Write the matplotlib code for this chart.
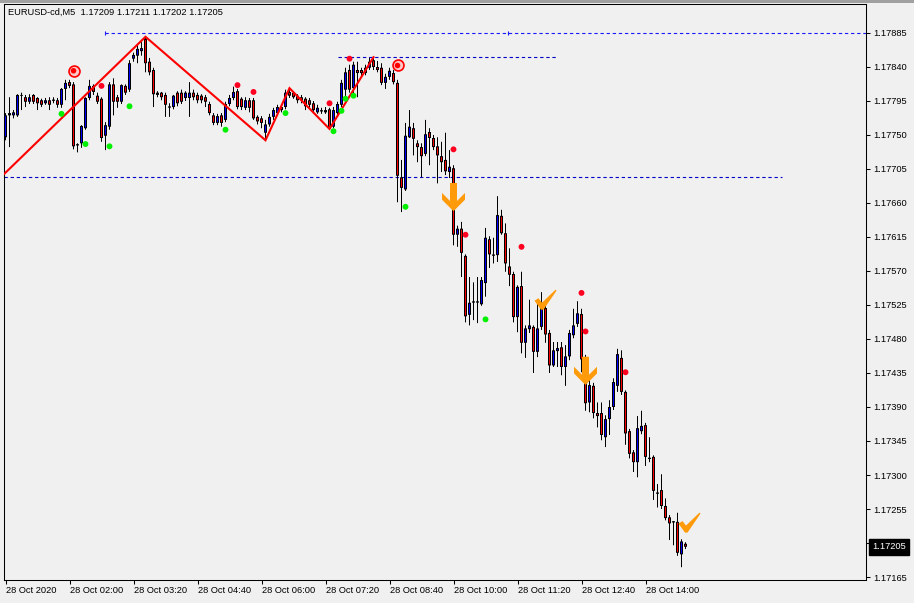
import numpy as np
import matplotlib
matplotlib.use("Agg")
import matplotlib.pyplot as plt
from matplotlib.path import Path
from matplotlib.patches import Rectangle
from matplotlib.transforms import blended_transform_factory

plt.rcParams['font.family'] = ['Liberation Sans', 'DejaVu Sans']

# ---------------- data ----------------
title_text = "EURUSD-cd,M5  1.17209 1.17211 1.17202 1.17205"
base_price = 1.17          # prices below are points (0.00001) above this
last_price = 1.17205

open_pts = [747, 776, 776, 776, 803, 800, 794, 803, 799, 796, 792, 796, 796, 796, 790, 811, 820, 817, 737, 739,
            759, 799, 815, 802, 798, 749, 761, 817, 800, 794, 815, 810, 851, 855, 861, 877, 847, 836, 806, 806,
            803, 787, 787, 806, 806, 799, 799, 806, 803, 802, 800, 791, 776, 766, 776, 770, 791, 799, 808, 798,
            786, 796, 796, 774, 772, 753, 764, 774, 779, 787, 787, 807, 806, 802, 800, 798, 796, 792, 780, 782,
            783, 784, 761, 779, 790, 810, 836, 812, 836, 836, 832, 839, 849, 840, 839, 819, 827, 832, 819, 694,
            678, 747, 759, 739, 734, 725, 754, 746, 735, 722, 717, 701, 706, 618, 626, 590, 512, 529, 529, 526,
            554, 612, 591, 591, 643, 620, 576, 566, 509, 550, 475, 493, 496, 463, 496, 521, 488, 445, 464, 469,
            443, 457, 485, 500, 513, 453, 396, 418, 382, 382, 350, 374, 390, 418, 455, 410, 358, 330, 317, 358,
            366, 322, 324, 276, 280, 259, 244, 238, 238, 195, 209]
high_pts = [779, 800, 783, 804, 806, 803, 804, 804, 800, 798, 799, 800, 800, 799, 812, 823, 823, 820, 739, 763,
            800, 823, 817, 806, 800, 767, 820, 825, 803, 817, 817, 849, 859, 869, 873, 880, 852, 839, 808, 807,
            806, 792, 803, 808, 810, 808, 820, 810, 806, 804, 803, 794, 779, 778, 779, 794, 803, 814, 811, 800,
            800, 799, 799, 776, 775, 770, 778, 786, 790, 790, 810, 812, 808, 804, 803, 800, 799, 795, 790, 786,
            787, 786, 787, 794, 823, 839, 843, 847, 847, 839, 843, 852, 853, 848, 845, 831, 839, 836, 823, 717,
            766, 783, 766, 743, 739, 770, 759, 750, 747, 741, 753, 730, 710, 630, 635, 592, 562, 555, 562, 562,
            627, 616, 614, 669, 651, 633, 600, 569, 551, 569, 498, 532, 498, 532, 542, 525, 492, 476, 476, 476,
            472, 492, 520, 530, 520, 459, 426, 422, 396, 396, 379, 399, 428, 467, 465, 412, 361, 333, 378, 385,
            369, 350, 326, 288, 301, 269, 247, 239, 250, 215, 211]
low_pts = [743, 734, 772, 774, 783, 787, 791, 791, 783, 787, 790, 783, 792, 786, 786, 796, 812, 731, 727, 733,
           757, 796, 803, 791, 741, 730, 757, 776, 786, 791, 803, 807, 847, 845, 855, 833, 829, 787, 800, 796,
           774, 774, 784, 788, 791, 795, 774, 796, 792, 792, 787, 776, 763, 763, 761, 767, 788, 796, 784, 783,
           783, 780, 770, 764, 759, 743, 761, 770, 776, 780, 784, 799, 798, 792, 792, 783, 786, 779, 778, 778,
           778, 758, 759, 776, 787, 800, 806, 803, 800, 828, 829, 836, 836, 833, 816, 811, 823, 817, 661, 648,
           676, 746, 723, 714, 694, 722, 710, 730, 686, 701, 697, 693, 604, 602, 562, 502, 498, 505, 501, 524,
           536, 574, 580, 582, 618, 569, 550, 502, 489, 461, 455, 488, 435, 456, 492, 475, 435, 443, 443, 432,
           418, 452, 481, 496, 436, 385, 383, 375, 363, 346, 337, 353, 386, 410, 406, 340, 322, 304, 297, 354,
           312, 317, 267, 257, 255, 240, 214, 207, 193, 178, 202]
close_pts = [776, 779, 780, 803, 802, 794, 800, 794, 792, 790, 796, 790, 796, 790, 811, 819, 815, 735, 737, 762,
             799, 815, 807, 794, 746, 763, 817, 794, 794, 816, 806, 845, 856, 864, 865, 845, 833, 804, 803, 800,
             790, 787, 802, 792, 794, 806, 806, 800, 796, 796, 794, 779, 766, 775, 766, 791, 799, 807, 787, 787,
             796, 786, 772, 768, 766, 764, 774, 783, 787, 783, 806, 802, 800, 796, 796, 788, 790, 783, 786, 782,
             780, 758, 783, 791, 819, 833, 810, 843, 832, 832, 839, 847, 840, 836, 819, 827, 835, 820, 696, 680,
             749, 761, 745, 734, 722, 751, 746, 734, 723, 714, 702, 708, 618, 626, 594, 510, 528, 529, 529, 558,
             614, 592, 591, 644, 620, 580, 565, 509, 549, 475, 494, 498, 463, 494, 528, 486, 445, 465, 468, 443,
             457, 488, 498, 514, 453, 395, 419, 382, 378, 353, 374, 390, 423, 460, 410, 355, 328, 317, 362, 365,
             324, 322, 279, 276, 259, 243, 236, 238, 197, 212, 205]

# zigzag turning points (bar index, price)
zz_bars = [-1, 35, 65, 71, 81, 92]
zz_prices = [1.17695, 1.17880, 1.17743, 1.17812, 1.17758, 1.17853]

# indicator dots
green_bars = [14, 20, 26, 31, 55, 70, 82, 84, 85, 87, 100, 120]
green_prices = [1.17778, 1.17738, 1.17735, 1.17788, 1.17757, 1.17779, 1.17755, 1.17782, 1.17798, 1.17802,
                1.17655, 1.17506]
red_bars = [24, 58, 62, 81, 86, 112, 115, 129, 144, 145, 155]
red_prices = [1.17815, 1.17816, 1.17807, 1.17792, 1.17851, 1.17731, 1.17618, 1.17602, 1.17541, 1.17490, 1.17436]

target_bars = [17, 98]
target_prices = [1.17835, 1.17842]

arrow_bars = [112, 145]
arrow_prices = [1.17668, 1.17438]

check_bars = [135, 171]
check_prices = [1.17532, 1.17237]

# horizontal levels: (price, start bar, end bar)
level_prices = [1.17885, 1.17853, 1.17694]
level_starts = [24.75, 83, -0.4]
level_ends = [215.2, 138, 194]

price_ticks = [1.17885, 1.17840, 1.17795, 1.17750, 1.17705, 1.17660, 1.17615, 1.17570, 1.17525,
               1.17480, 1.17435, 1.17390, 1.17345, 1.17300, 1.17255, 1.17210, 1.17165]
time_tick_bars = [0, 16, 32, 48, 64, 80, 96, 112, 128, 144, 160]
time_tick_labels = ["28 Oct 2020", "28 Oct 02:00", "28 Oct 03:20", "28 Oct 04:40", "28 Oct 06:00",
                    "28 Oct 07:20", "28 Oct 08:40", "28 Oct 10:00", "28 Oct 11:20", "28 Oct 12:40",
                    "28 Oct 14:00"]

# ---------------- drawing ----------------
o = base_price + np.array(open_pts) / 1e5
h = base_price + np.array(high_pts) / 1e5
l = base_price + np.array(low_pts) / 1e5
c = base_price + np.array(close_pts) / 1e5
idx = np.arange(len(o))

BG = '#F0F0F0'
W, H = 914, 603
AX_W, AX_H = 862, 576
fig = plt.figure(figsize=(W / 100, H / 100), dpi=100, facecolor=BG)
ax = fig.add_axes([4 / W, 23 / H, AX_W / W, AX_H / H])
ax.set_facecolor(BG)
XMIN, XMAX = -0.375, 215.125
YMIN, YMAX = 1.1716103, 1.1792338
ax.set_xlim(XMIN, XMAX)
ax.set_ylim(YMIN, YMAX)
px_y = (YMAX - YMIN) / AX_H      # one pixel in price units

top = np.maximum(o, c)
bot = np.minimum(o, c)
body = top - bot
flat = body < 0.6 * px_y
solid = ~flat
up = (c > o) & (body > 2.5 * px_y)
down = (c < o) & (body > 2.5 * px_y)

# wicks
ax.vlines(idx, l, h, color='black', lw=0.72, zorder=2, snap=False)
# black body outline
ax.bar(idx[solid], body[solid], bottom=bot[solid], width=0.75, color='black', lw=0,
       zorder=3, snap=False)
# coloured body interior
ax.bar(idx[up], body[up] - 2 * px_y, bottom=bot[up] + px_y, width=0.25, color='#0000FF', lw=0,
       zorder=4, snap=False)
ax.bar(idx[down], body[down] - 2 * px_y, bottom=bot[down] + px_y, width=0.25, color='#FF0000', lw=0,
       zorder=4, snap=False)
# doji
ax.hlines(o[flat], idx[flat] - 0.375, idx[flat] + 0.375, color='black', lw=0.9, zorder=3, snap=False)

# horizontal dashed levels
dash = (0, (3, 2.5))
for p, s, e, col in zip(level_prices, level_starts, level_ends, ['#1A1AFF', '#0000C8', '#0000C8']):
    ax.hlines(p, s, e, colors=col, linestyles=[dash], lw=0.8, zorder=1)
ax.plot([24.75, 125.5], [level_prices[0], level_prices[0]], ls='none', marker='|', ms=3.5,
        mew=0.8, color='#1A1AFF', zorder=1)

# zigzag
ax.plot(zz_bars, zz_prices, color='#FF0000', lw=1.5, zorder=5, solid_joinstyle='miter')

# dots
ax.scatter(green_bars, green_prices, s=18, color='#00F000', edgecolors='none', zorder=6)
ax.scatter(red_bars, red_prices, s=18, color='#FF0020', edgecolors='none', zorder=6)

# target circles
ax.scatter(target_bars, target_prices, s=62, facecolor='#FFC8C8', edgecolors='#FF0000', linewidths=1.2, zorder=7)
ax.scatter(target_bars, target_prices, s=16, color='#FF0000', edgecolors='none', zorder=8)

# arrow marker (down arrow)
arrow_verts = [(-3.5, 14), (3.5, 14), (3.5, -4), (11.5, 4), (11.5, -2.7), (0, -14.3),
               (-11.5, -2.7), (-11.5, 4), (-3.5, -4), (-3.5, 14)]
arrow_path = Path(arrow_verts, [Path.MOVETO] + [Path.LINETO] * 8 + [Path.CLOSEPOLY])
ax.scatter(arrow_bars, arrow_prices, marker=arrow_path, s=(2 * 14.3 * 0.72) ** 2,
           color='#FF9A0A', edgecolors='none', zorder=9)

# check marker
check_verts = [(-11, -1), (-7, 1.5), (-3.5, -3), (10, 10), (11, 9), (-2, -10), (-4.5, -10), (-11, -1)]
check_path = Path(check_verts, [Path.MOVETO] + [Path.LINETO] * 6 + [Path.CLOSEPOLY])
ax.scatter(check_bars, check_prices, marker=check_path, s=(2 * 11 * 0.72) ** 2,
           color='#FF9A0A', edgecolors='none', zorder=9)

# axes styling
for sp in ax.spines.values():
    sp.set_color('black')
    sp.set_linewidth(0.75)
ax.yaxis.tick_right()
ax.set_yticks(price_ticks)
ax.set_yticklabels([f"{t:.5f}" for t in price_ticks])
ax.tick_params(axis='y', direction='out', length=3, width=0.75, pad=2.5, labelsize=6.7, colors='black')
ax.set_xticks(time_tick_bars)
ax.set_xticklabels(time_tick_labels, ha='left')
ax.tick_params(axis='x', direction='out', length=3, width=0.75, pad=1.5, labelsize=6.7, colors='black')

# current price label
tr = blended_transform_factory(ax.transAxes, ax.transData)
ax.text(1 + 6 / AX_W, last_price, f"{last_price:.5f}", transform=tr, color='white', fontsize=6.7,
        va='center', ha='left', clip_on=False, zorder=10,
        bbox=dict(boxstyle='square,pad=0.35', facecolor='black', edgecolor='black'))

# header
fig.text(8 / W, 1 - 12 / H, title_text, fontsize=6.7, va='center', ha='left', color='black')
fig.patches.append(Rectangle((0, 1 - 2.5 / H), 1, 2.5 / H, transform=fig.transFigure,
                             facecolor='#A0A0A0', edgecolor='none'))

fig.savefig('out.png', dpi=100, facecolor=BG)
